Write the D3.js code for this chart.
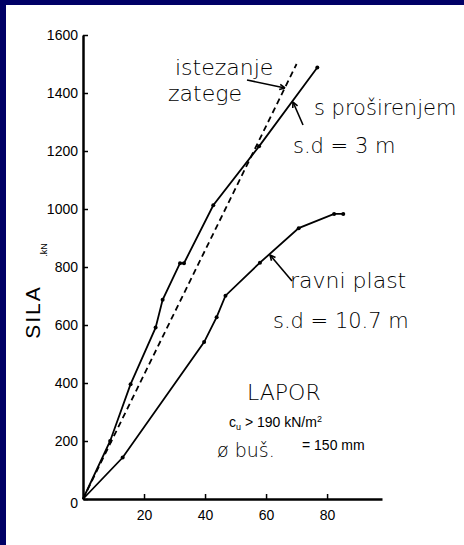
<!DOCTYPE html>
<meta charset="utf-8">
<style>
body { margin: 0; background: #000066; }
svg { display: block; }
.axis .domain { stroke: #000; stroke-width: 2.5px; }
.axis line { stroke: #000; stroke-width: 1.5px; }
.axis text { font-family: 'Liberation Sans', Arial, sans-serif; font-size: 14px; fill: #000; }
.hand { font-family: 'DejaVu Sans', sans-serif; font-weight: 200; fill: #000; }
.print { font-family: 'Liberation Sans', Arial, sans-serif; fill: #000; }
</style>
<body>
<script src="https://cdn.jsdelivr.net/npm/d3@7/dist/d3.min.js"></script>
<script>
var width = 464
var height = 545

// pomak (mm) i sila (kN)
var prosirenjeX = [0, 8.9, 15.6, 23.8, 26.1, 31.8, 33.1, 42.7, 57.7, 76.8]
var prosirenjeY = [0, 200, 396, 591, 687, 813, 813, 1013, 1216, 1488]
var ravniX = [0, 13, 39.7, 43.8, 46.7, 58, 70.7, 82.3, 85.3]
var ravniY = [0, 143, 541, 627, 701, 815, 934, 983, 983]
var istezanjeX = [0, 70]
var istezanjeY = [0, 1500]

var xTicks = [20, 40, 60, 80]
var yTicks = [0, 200, 400, 600, 800, 1000, 1200, 1400, 1600]

var svg = d3.select('body').append('svg')
    .attr('width', width)
    .attr('height', height)

svg.append('rect')
    .attr('width', width).attr('height', height)
    .attr('fill', '#000066')

svg.append('rect')
    .attr('x', 6).attr('y', 5)
    .attr('width', width - 6).attr('height', height - 5)
    .attr('fill', '#fff')

var x = d3.scaleLinear().domain([0, 98]).range([83, 382])
var y = d3.scaleLinear().domain([0, 1600]).range([499, 35])

svg.append('g')
    .attr('class', 'axis x')
    .attr('transform', 'translate(0,' + y(0) + ')')
    .call(d3.axisBottom(x).tickValues(xTicks).tickSize(-5).tickPadding(11).tickSizeOuter(0))

svg.append('g')
    .attr('class', 'axis y')
    .attr('transform', 'translate(' + x(0) + ',0)')
    .call(d3.axisLeft(y).tickValues(yTicks).tickFormat(d3.format('d'))
        .tickSize(-5).tickPadding(5).tickSizeOuter(0))
    .selectAll('.tick text')
    .attr('dy', function (d) { return d === 0 ? '0.6em' : '0.32em' })

var line = d3.line()
    .x(function (d) { return x(d[0]) })
    .y(function (d) { return y(d[1]) })

function pairs(xs, ys) {
    return xs.map(function (v, i) { return [v, ys[i]] })
}

var series = [
    { pts: pairs(prosirenjeX, prosirenjeY), dash: null, dots: true },
    { pts: pairs(ravniX, ravniY), dash: null, dots: true },
    { pts: pairs(istezanjeX, istezanjeY), dash: '6,4', dots: false }
]

series.forEach(function (s) {
    svg.append('path')
        .datum(s.pts)
        .attr('d', line)
        .attr('fill', 'none')
        .attr('stroke', '#000')
        .attr('stroke-width', 1.8)
        .attr('stroke-dasharray', s.dash)
    if (s.dots) {
        svg.selectAll(null)
            .data(s.pts.slice(1))
            .enter().append('circle')
            .attr('cx', function (d) { return x(d[0]) })
            .attr('cy', function (d) { return y(d[1]) })
            .attr('r', 2)
            .attr('fill', '#000')
    }
})

// naslov osi y
svg.append('text')
    .attr('class', 'print')
    .attr('transform', 'translate(40,312) rotate(-90)')
    .attr('text-anchor', 'middle')
    .style('font-size', '21px')
    .style('letter-spacing', '2px')
    .text('SILA')

svg.append('text')
    .attr('class', 'print')
    .attr('transform', 'translate(47,250) rotate(-90)')
    .attr('text-anchor', 'middle')
    .style('font-size', '9px')
    .text('.kN')

// rukom pisane bilješke
var notes = [
    { t: 'istezanje', x: 175, y: 75, s: 22 },
    { t: 'zatege', x: 168, y: 101, s: 22 },
    { t: 's proširenjem', x: 314, y: 115, s: 21 },
    { t: 's.d = 3 m', x: 293, y: 153, s: 21 },
    { t: 'ravni plast', x: 290, y: 288, s: 22 },
    { t: 's.d = 10.7 m', x: 273, y: 328, s: 21 },
    { t: 'LAPOR', x: 247, y: 400, s: 22 },
    { t: 'ø buš.', x: 217, y: 457, s: 19 }
]

svg.selectAll('.hand')
    .data(notes)
    .enter().append('text')
    .attr('class', 'hand')
    .attr('x', function (d) { return d.x })
    .attr('y', function (d) { return d.y })
    .style('font-size', function (d) { return d.s + 'px' })
    .text(function (d) { return d.t })

var cu = svg.append('text')
    .attr('class', 'print')
    .attr('x', 229).attr('y', 427)
    .style('font-size', '14px')
cu.append('tspan').text('c')
cu.append('tspan').attr('dy', 3).style('font-size', '9px').text('u')
cu.append('tspan').attr('dy', -3).text(' > 190 kN/m')
cu.append('tspan').attr('dy', -5).style('font-size', '9px').text('2')

svg.append('text')
    .attr('class', 'print')
    .attr('x', 302).attr('y', 450)
    .style('font-size', '14px')
    .text('= 150 mm')

// strelice
var arrows = [
    [[247, 80], [285, 88]],
    [[303, 125], [293, 102]],
    [[292, 281], [270, 255]]
]

arrows.forEach(function (a) {
    svg.append('line')
        .attr('x1', a[0][0]).attr('y1', a[0][1])
        .attr('x2', a[1][0]).attr('y2', a[1][1])
        .attr('stroke', '#000').attr('stroke-width', 1.6)
    var ang = Math.atan2(a[1][1] - a[0][1], a[1][0] - a[0][0])
    var h = 6
    svg.append('path')
        .attr('d', 'M' + a[1][0] + ',' + a[1][1] +
            'L' + (a[1][0] - h * Math.cos(ang - 0.45)) + ',' + (a[1][1] - h * Math.sin(ang - 0.45)) +
            'M' + a[1][0] + ',' + a[1][1] +
            'L' + (a[1][0] - h * Math.cos(ang + 0.45)) + ',' + (a[1][1] - h * Math.sin(ang + 0.45)))
        .attr('stroke', '#000').attr('stroke-width', 1.6).attr('fill', 'none')
})
</script>
</body>
